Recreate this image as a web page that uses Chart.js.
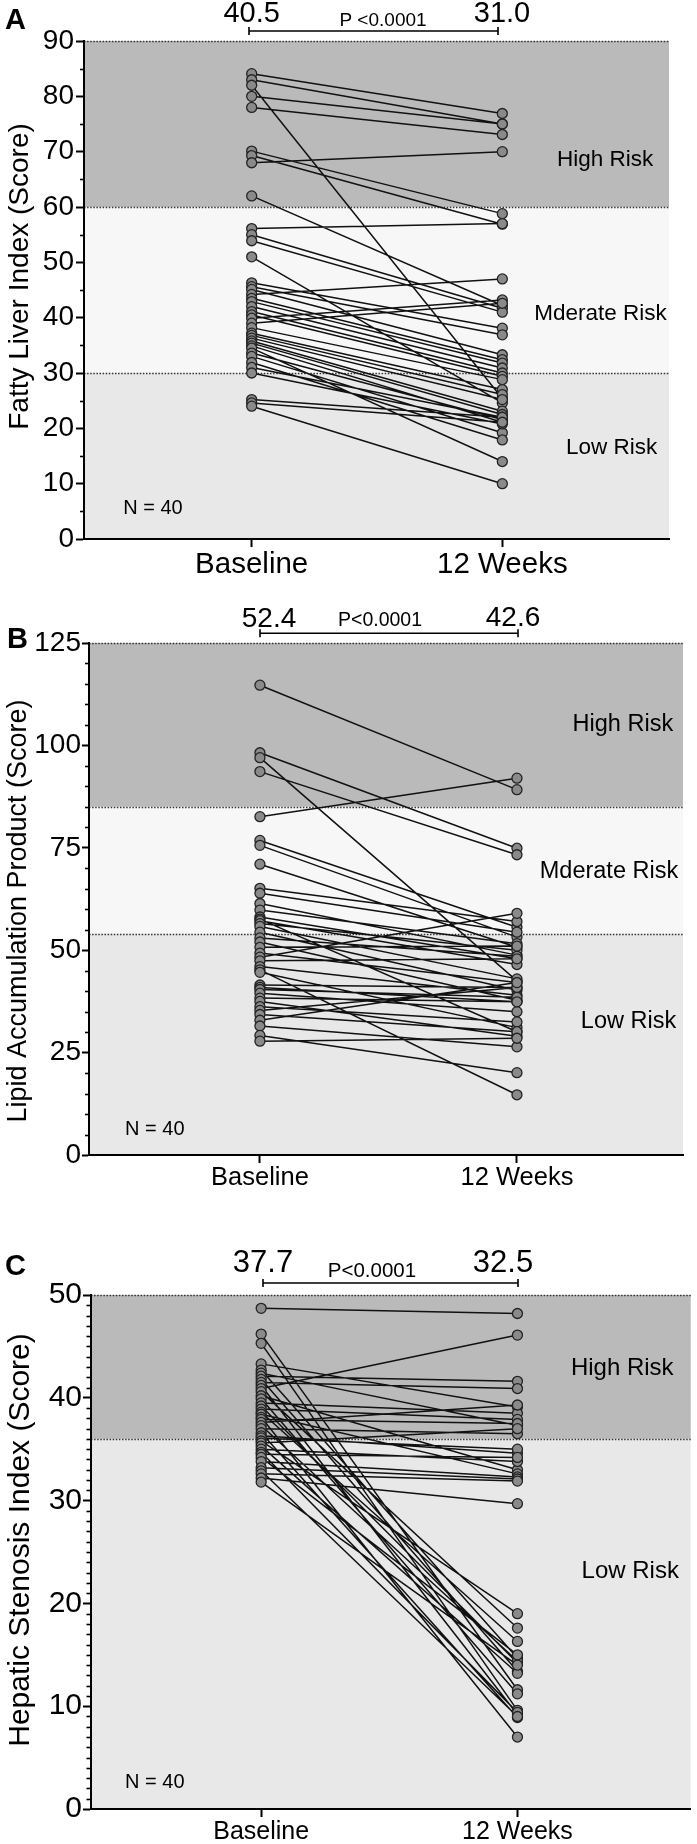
<!DOCTYPE html>
<html><head><meta charset="utf-8">
<script src="https://cdn.jsdelivr.net/npm/chart.js@4.4.0/dist/chart.umd.min.js"></script>
<style>
html,body{margin:0;padding:0;background:#fff;}
#wrap{position:relative;width:697px;height:1844px;overflow:hidden;background:#fff;}
canvas{position:absolute;left:0;}
</style></head><body>
<div id="wrap">
<canvas id="cA" width="697" height="600" style="top:0px"></canvas>
<canvas id="cB" width="697" height="600" style="top:600px"></canvas>
<canvas id="cC" width="697" height="644" style="top:1200px"></canvas>
</div>
<script>
// ---------- data ----------
const categories = ['Baseline', '12 Weeks'];

const fliBaseline = [84.1, 83.0, 82.0, 80.0, 78.0, 70.1, 69.3, 68.0, 62.0, 56.1, 55.0, 53.9, 51.0, 46.3, 45.6, 45.1, 44.2, 43.5, 42.9, 42.0, 41.1, 40.5, 39.9, 39.0, 38.2, 37.2, 36.8, 36.3, 35.8, 35.4, 34.9, 34.5, 33.6, 33.0, 31.9, 31.0, 30.0, 25.2, 24.6, 24.0];
const fliWeek12   = [76.9, 75.0, 25.4, 75.0, 73.1, 58.8, 56.9, 70.0, 42.2, 57.0, 41.7, 41.0, 24.6, 38.1, 36.9, 33.3, 47.0, 32.4, 31.8, 30.9, 30.0, 29.4, 43.2, 42.6, 28.8, 27.0, 26.1, 25.2, 23.1, 22.5, 21.1, 14.0, 21.6, 19.2, 17.9, 22.0, 20.8, 22.0, 21.1, 10.0];
const fliTicks = [0, 10, 20, 30, 40, 50, 60, 70, 80, 90];
const fliCutoffs = [30, 60, 90];
const fliMeans = ['40.5', '31.0'];

const lapBaseline = [114.7, 98.2, 97.0, 93.6, 82.6, 76.8, 75.6, 71.0, 65.1, 63.9, 61.4, 59.8, 58.1, 57.6, 57.2, 56.5, 55.8, 54.4, 53.0, 52.0, 50.7, 49.3, 48.3, 47.4, 46.0, 45.2, 44.6, 41.5, 40.9, 40.4, 39.5, 38.3, 37.5, 36.2, 35.3, 34.3, 32.9, 31.5, 29.2, 27.8];
const lapWeek12   = [89.2, 74.9, 42.5, 73.3, 92.0, 55.6, 53.2, 50.7, 57.0, 54.4, 48.8, 51.6, 47.9, 30.1, 46.5, 50.0, 43.0, 40.2, 48.5, 37.8, 51.0, 42.1, 59.0, 47.9, 39.0, 14.7, 31.1, 40.9, 37.4, 38.5, 35.0, 37.4, 29.0, 32.5, 40.9, 30.1, 42.1, 26.4, 20.1, 28.5];
const lapTicks = [0, 25, 50, 75, 100, 125];
const lapCutoffs = [54, 85, 125];
const lapMeans = ['52.4', '42.6'];

const hsiBaseline = [48.7, 46.2, 45.3, 43.3, 42.7, 42.4, 42.1, 41.8, 41.5, 41.2, 40.9, 40.6, 40.2, 39.9, 39.5, 39.2, 38.9, 38.6, 38.4, 38.1, 37.9, 37.6, 37.3, 37.0, 36.6, 36.3, 36.1, 35.8, 35.6, 35.3, 35.0, 34.7, 34.5, 34.2, 33.8, 33.2, 32.9, 32.6, 32.2, 31.8];
const hsiWeek12   = [48.2, 11.6, 9.6, 39.1, 14.7, 37.3, 41.6, 13.4, 40.9, 9.2, 46.1, 17.6, 33.0, 11.2, 38.5, 14.2, 37.9, 16.3, 32.6, 7.0, 37.5, 39.3, 14.4, 36.5, 8.9, 34.6, 35.0, 19.0, 37.0, 13.2, 33.8, 9.4, 34.2, 15.0, 32.3, 32.1, 9.0, 31.9, 29.7, 14.0];
const hsiTicks = [0, 10, 20, 30, 40, 50];
const hsiCutoffs = [36, 50];
const hsiMeans = ['37.7', '32.5'];

// ---------- styling ----------
const FONT = '"Liberation Sans", Arial, Helvetica, sans-serif';
const DARK = '#bababa', MID = '#f7f7f7', LIGHT = '#e8e8e8';

function lineData(b, w) {
  const out = [];
  b.forEach((v, i) => { out.push({x: 0, y: v}, {x: 1, y: w[i]}, {x: 0.5, y: null}); });
  return out;
}
function pointData(b, w) {
  return b.map(v => ({x: 0, y: v})).concat(w.map(v => ({x: 1, y: v})));
}

function decorPlugin(s) {
  return {
    id: 'decor' + s.letter.t,
    beforeDraw(chart) {
      const {ctx, chartArea: ca, scales: {y}} = chart;
      ctx.save();
      s.bands.forEach(b => {
        const yt = y.getPixelForValue(b.to), yb = y.getPixelForValue(b.from);
        ctx.fillStyle = b.color;
        ctx.fillRect(ca.left, yt, ca.right - ca.left, yb - yt);
      });
      ctx.strokeStyle = '#333';
      ctx.lineWidth = 1.3;
      ctx.setLineDash([1.5, 1.6]);
      s.cutoffs.forEach(v => {
        const py = Math.round(y.getPixelForValue(v)) + 0.5;
        ctx.beginPath(); ctx.moveTo(ca.left, py); ctx.lineTo(ca.right, py); ctx.stroke();
      });
      ctx.restore();
    },
    afterDraw(chart) {
      const {ctx, chartArea: ca, scales: {x, y}} = chart;
      ctx.save();
      // minor ticks
      ctx.strokeStyle = '#000';
      ctx.lineWidth = 1.6;
      for (let v = 0; v <= s.yMax + 1e-9; v += s.minorStep) {
        if (s.yTicks.includes(Math.round(v * 100) / 100)) continue;
        const py = Math.round(y.getPixelForValue(v)) + 0.5;
        ctx.beginPath(); ctx.moveTo(ca.left - s.minorLen, py); ctx.lineTo(ca.left, py); ctx.stroke();
      }
      ctx.fillStyle = '#000';
      ctx.textBaseline = 'middle';
      // panel letter
      ctx.textAlign = 'left';
      ctx.font = `bold ${s.letter.size}px ${FONT}`;
      ctx.fillText(s.letter.t, s.letter.x, s.letter.y);
      // means
      ctx.textAlign = 'center';
      ctx.font = `${s.meanSize}px ${FONT}`;
      s.means.forEach((m, i) => ctx.fillText(m, s.meanPos[i].x, s.meanPos[i].y));
      // p value
      ctx.font = `${s.p.size}px ${FONT}`;
      ctx.fillText(s.p.t, s.p.x, s.p.y);
      // bracket
      ctx.lineWidth = 1.6;
      ctx.beginPath();
      ctx.moveTo(s.bracket.x0, s.bracket.y); ctx.lineTo(s.bracket.x1, s.bracket.y);
      ctx.moveTo(s.bracket.x0, s.bracket.y - 4); ctx.lineTo(s.bracket.x0, s.bracket.y + 4);
      ctx.moveTo(s.bracket.x1, s.bracket.y - 4); ctx.lineTo(s.bracket.x1, s.bracket.y + 4);
      ctx.stroke();
      // risk labels
      ctx.font = `${s.riskSize}px ${FONT}`;
      s.risks.forEach(r => ctx.fillText(r.t, x.getPixelForValue(r.xv), y.getPixelForValue(r.yv)));
      // N
      ctx.font = `${s.n.size}px ${FONT}`;
      ctx.fillText(s.n.t, x.getPixelForValue(s.n.xv), y.getPixelForValue(s.n.yv));
      // y title
      ctx.translate(s.title.x, s.title.y);
      ctx.rotate(-Math.PI / 2);
      ctx.font = `${s.title.size}px ${FONT}`;
      ctx.fillText(s.title.t, 0, 0);
      ctx.restore();
    }
  };
}

function makePanel(s) {
  return new Chart(document.getElementById(s.canvas), {
    type: 'line',
    data: {
      datasets: [
        {data: lineData(s.base, s.wk), borderColor: '#111', borderWidth: 1.5, pointRadius: 0, spanGaps: false, order: 2, tension: 0},
        {data: pointData(s.base, s.wk), showLine: false, pointRadius: 5, pointBackgroundColor: '#8a8a8a', pointBorderColor: '#222', pointBorderWidth: 1.3, order: 1}
      ]
    },
    options: {
      responsive: false,
      animation: false,
      events: [],
      layout: {padding: {top: s.padTop, right: s.padRight, bottom: 0, left: 0}},
      plugins: {legend: {display: false}, tooltip: {enabled: false}},
      scales: {
        x: {
          type: 'linear', min: s.xMin, max: s.xMax,
          afterBuildTicks: sc => { sc.ticks = categories.map((c, i) => ({value: i})); },
          afterFit: sc => { sc.height = s.xHeight; },
          ticks: {callback: v => categories[Math.round(v)], font: {family: FONT, size: s.xTickFont}, color: '#000', padding: 0, maxRotation: 0, autoSkip: false},
          grid: {drawOnChartArea: false, drawTicks: true, tickLength: 8, tickWidth: 2, tickColor: '#000'},
          border: {display: true, color: '#000', width: 2}
        },
        y: {
          type: 'linear', min: 0, max: s.yMax,
          afterBuildTicks: sc => { sc.ticks = s.yTicks.map(v => ({value: v})); },
          afterFit: sc => { sc.width = s.yWidth; },
          ticks: {callback: v => String(v), font: {family: FONT, size: s.yTickFont}, color: '#000', padding: s.yTickPad, autoSkip: false},
          grid: {drawOnChartArea: false, drawTicks: true, tickLength: s.yTickLen, tickWidth: 2, tickColor: '#000'},
          border: {display: true, color: '#000', width: 2}
        }
      }
    },
    plugins: [decorPlugin(s)]
  });
}

makePanel({
  canvas: 'cA', base: fliBaseline, wk: fliWeek12, yTicks: fliTicks, yMax: 90, minorStep: 5, minorLen: 4,
  xMin: -0.669, xMax: 1.665, padTop: 41, padRight: 28, yWidth: 84, xHeight: 61,
  yTickFont: 28, yTickPad: 2, yTickLen: 8, xTickFont: 29.5,
  bands: [{from: 60, to: 90, color: DARK}, {from: 30, to: 60, color: MID}, {from: 0, to: 30, color: LIGHT}],
  cutoffs: fliCutoffs,
  letter: {t: 'A', x: 5, y: 21, size: 29},
  means: fliMeans, meanPos: [{x: 251.7, y: 14}, {x: 502, y: 14}], meanSize: 29,
  p: {t: 'P <0.0001', x: 383, y: 21, size: 19},
  bracket: {x0: 249, x1: 498, y: 31},
  title: {t: 'Fatty Liver Index (Score)', x: 20.5, y: 276.5, size: 28},
  risks: [{t: 'High Risk', xv: 1.41, yv: 68.6}, {t: 'Mderate Risk', xv: 1.392, yv: 40.7}, {t: 'Low Risk', xv: 1.436, yv: 16.4}], riskSize: 22.5,
  n: {t: 'N = 40', xv: -0.394, yv: 5.6, size: 20}
});

makePanel({
  canvas: 'cB', base: lapBaseline, wk: lapWeek12, yTicks: lapTicks, yMax: 125, minorStep: 5, minorLen: 4,
  xMin: -0.665, xMax: 1.646, padTop: 43, padRight: 14, yWidth: 89, xHeight: 45,
  yTickFont: 28, yTickPad: 1, yTickLen: 7, xTickFont: 25.5,
  bands: [{from: 85, to: 125, color: DARK}, {from: 54, to: 85, color: MID}, {from: 0, to: 54, color: LIGHT}],
  cutoffs: lapCutoffs,
  letter: {t: 'B', x: 7, y: 40, size: 29},
  means: lapMeans, meanPos: [{x: 269, y: 19}, {x: 513, y: 18.5}], meanSize: 28,
  p: {t: 'P<0.0001', x: 380, y: 21, size: 19.5},
  bracket: {x0: 260, x1: 518, y: 33.3},
  title: {t: 'Lipid Accumulation Product (Score)', x: 19, y: 311, size: 27},
  risks: [{t: 'High Risk', xv: 1.412, yv: 105.2}, {t: 'Mderate Risk', xv: 1.358, yv: 69.2}, {t: 'Low Risk', xv: 1.434, yv: 32.5}], riskSize: 23.5,
  n: {t: 'N = 40', xv: -0.409, yv: 6.3, size: 20}
});

makePanel({
  canvas: 'cC', base: hsiBaseline, wk: hsiWeek12, yTicks: hsiTicks, yMax: 50, minorStep: 1, minorLen: 4.5,
  xMin: -0.664, xMax: 1.676, padTop: 95, padRight: 0, yWidth: 91, xHeight: 35,
  yTickFont: 30, yTickPad: 1, yTickLen: 8, xTickFont: 25,
  bands: [{from: 36, to: 50, color: DARK}, {from: 0, to: 36, color: LIGHT}],
  cutoffs: hsiCutoffs,
  letter: {t: 'C', x: 5, y: 67, size: 29},
  means: hsiMeans, meanPos: [{x: 263, y: 63}, {x: 503, y: 63}], meanSize: 31,
  p: {t: 'P<0.0001', x: 372, y: 71, size: 20.5},
  bracket: {x0: 263, x1: 518, y: 83},
  title: {t: 'Hepatic Stenosis Index (Score)', x: 21, y: 340, size: 30},
  risks: [{t: 'High Risk', xv: 1.409, yv: 42.9}, {t: 'Low Risk', xv: 1.44, yv: 23.1}], riskSize: 24,
  n: {t: 'N = 40', xv: -0.415, yv: 2.6, size: 20}
});
</script>
</body></html>
